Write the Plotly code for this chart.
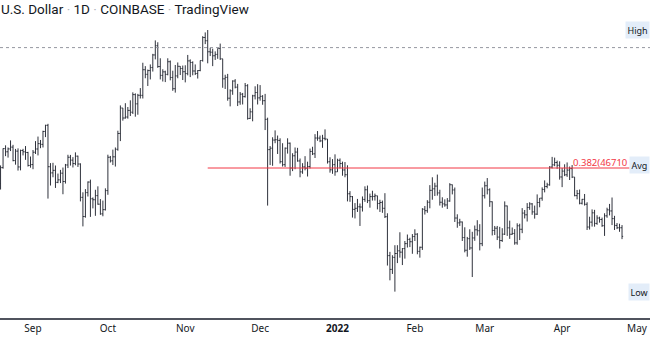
import numpy as np
import pandas as pd
import plotly.graph_objects as go

# Daily BTC/USD bars (Coinbase), 2021-08-19 .. 2022-04-25
dates = pd.date_range("2021-08-19", "2022-04-25", freq="D")

opens = [
    44700, 46760, 49340, 48900, 49300, 49550, 47700, 48990, 46850, 49080, 48900, 48800, 47050,
    47160, 48840, 49290, 50040, 49940, 51790, 52700, 46880, 46070, 46400, 44850, 45170, 46030, 44960,
    47110, 48150, 47760, 47300, 48300, 47240, 42990, 40720, 43570, 44890, 42820, 42700, 43200, 42170,
    41030, 41520,
    43820, 48150, 47660, 48210, 49250, 51500, 55340, 53800, 53950, 54970, 54690, 57480, 56000, 57370,
    57360, 61670, 60870, 61520, 62050, 64300, 66000, 62230, 60690, 61300, 60860, 63080, 60330, 58450,
    60600, 62270, 61880,
    61320, 61000, 63230, 62940, 61450, 61010, 61530, 63300, 67550, 66940, 64880, 64800, 64150, 64400,
    65500, 63600, 60100, 60350, 56900, 58100, 59730, 58700, 56300, 57550, 57150, 58950, 53740, 54750,
    57280, 57820,
    56950, 57200, 56500, 53600, 49200, 49400, 50550, 50600, 50500, 47550, 47150, 49400, 50100, 46700,
    48350, 48860, 47650, 46200, 46850, 46680, 46900, 48950, 48620, 50840, 50830, 50430, 50800, 50700,
    47540, 46470, 47150,
    46210, 47740, 47300, 46450, 45830, 43430, 43080, 41550, 41680, 41860, 41830, 42740, 43920, 42590,
    43080, 43100, 43180, 42250, 42370, 41680, 40700, 36460, 35070, 36280, 36680, 36960, 36820, 37190,
    37720, 38170, 37920,
    38480, 38740, 36900, 37330, 41570, 41400, 42400, 43850, 44040, 44380, 43530, 42400, 42200, 42080,
    42550, 44550, 43900, 40550, 40000, 40100, 38370, 37020, 38250, 37260, 38330, 39220, 39120, 37710,
    43190, 44420, 43920, 42460, 39150, 39400, 38420, 38050, 38740, 41960, 39440, 38730, 38820, 37800,
    39670, 39280, 41120, 40920, 41780, 42200, 41260, 41000, 42370, 42890, 43960, 44330, 44540, 46830,
    47130, 47440, 47070,
    45540, 46300, 45820, 46430, 46630, 45530, 43200, 43450, 42280, 42750, 42160, 39530, 40080, 41150,
    39940, 40550, 40380, 39680, 40800, 41500, 41370, 40480, 39710, 39450, 39450,
]
highs = [
    47050, 49380, 49800, 49500, 50500, 49870, 49300, 49380, 49200, 49310, 49700, 48900, 48250,
    49150, 50400, 51050, 50560, 51900, 52780, 52920, 47360, 47400, 47040, 45980, 46460, 46770, 47250,
    48490, 48470, 48170, 48820, 48370, 47330, 43610, 44000, 44970, 45200, 42980, 43920, 44350, 42780,
    42600, 44100,
    48500, 48330, 49200, 49500, 51900, 55750, 55340, 56100, 55500, 56560, 57850, 57680, 57600, 58550,
    62900, 62300, 61700, 62600, 64500, 67000, 66650, 63700, 61750, 61500, 63700, 63300, 61500, 62500,
    62950, 62300, 62400,
    62450, 64300, 63500, 63150, 62600, 61600, 63300, 67800, 68530, 69000, 65600, 65450, 64950, 65500,
    66400, 63600, 60800, 60950, 58350, 59850, 60050, 59250, 57900, 57750, 59400, 59200, 55300, 57450,
    58850, 59200,
    59050, 57400, 57600, 53850, 49700, 50950, 51950, 51200, 50800, 50100, 49500, 50800, 50200, 48700,
    49500, 49450, 47980, 47350, 48300, 47550, 49350, 49600, 51400, 51850, 51200, 51300, 52100, 50700,
    48150, 47900, 48550,
    47950, 47990, 47560, 47500, 47070, 43750, 43150, 42300, 42800, 42250, 43100, 44350, 44450, 43450,
    43800, 43450, 43190, 42700, 42600, 43500, 41100, 36850, 36500, 37550, 37550, 38950, 37250, 38000,
    38700, 38350, 38750,
    39280, 38850, 37400, 41700, 41950, 42650, 44500, 45500, 44800, 45850, 43920, 43000, 42750, 42900,
    44750, 44580, 44200, 40980, 40460, 40150, 39500, 38440, 39280, 39000, 39700, 40300, 39850, 44200,
    44950, 45400, 44100, 42500, 39650, 39650, 39550, 39400, 42500, 42000, 40250, 39480, 39300, 39950,
    39900, 41700, 41480, 42300, 42400, 42300, 42000, 43350, 42900, 44220, 45100, 44800, 46950, 48200,
    48100, 47700, 47600,
    46700, 47200, 47450, 46900, 47100, 45530, 43900, 43950, 42800, 43400, 42400, 40700, 41550, 41500,
    40870, 40700, 40600, 41100, 41750, 42200, 42970, 40800, 39980, 39900, 39750,
]
lows = [
    43950, 46620, 48300, 48100, 49000, 47600, 47150, 46370, 46400, 48400, 47800, 46900, 46750,
    46550, 48600, 48400, 49400, 49500, 50970, 42840, 44450, 45500, 44150, 44750, 44760, 43370, 44700,
    46700, 47030, 46780, 47070, 46850, 42500, 39600, 40590, 43090, 40680, 41670, 40800, 42100, 40920,
    40750, 41420,
    43300, 47440, 47100, 46900, 49050, 50400, 53400, 53700, 53700, 54100, 54420, 54000, 54300, 56850,
    56850, 60200, 58900, 60000, 61350, 63500, 62000, 60000, 59650, 59550, 60700, 59850, 58100, 57800,
    60200, 60750, 59900,
    59500, 60700, 60400, 60700, 60750, 60150, 61400, 63100, 66300, 62800, 64100, 62300, 63400, 63600,
    63400, 58600, 58400, 56500, 55600, 57450, 58500, 55650, 55850, 55900, 57000, 53550, 53650, 53300,
    56700, 55900,
    56500, 55850, 52000, 42000, 47100, 47000, 50100, 48600, 47300, 46900, 46850, 48650, 45700, 46300,
    46550, 47550, 45500, 45950, 46400, 45600, 46650, 48450, 48050, 50450, 50250, 49450, 50500, 47300,
    46100, 45950, 45700,
    46200, 46650, 45700, 45500, 42500, 42450, 40600, 40500, 41250, 39650, 41300, 42450, 42300, 41750,
    42600, 42600, 41550, 41250, 41150, 40550, 35450, 34000, 34620, 32930, 35700, 36250, 35500, 36150,
    37300, 37350, 36650,
    38000, 36600, 36250, 37050, 40950, 41150, 41680, 42700, 43150, 43200, 42000, 41750, 41870, 41600,
    42450, 43350, 40100, 39450, 39650, 38000, 36800, 36350, 37050, 34320, 38020, 38580, 37000, 37450,
    42850, 43350, 41850, 38600, 38650, 38100, 37200, 37900, 38650, 38550, 38230, 38670, 37600, 37600,
    38100, 38850, 40500, 40150, 41500, 40920, 40480, 40900, 41800, 42580, 43600, 44100, 44430, 46650,
    46950, 46600, 45200,
    44250, 45650, 45550, 45150, 45400, 43120, 42750, 42150, 42130, 42000, 39200, 39250, 39580, 39570,
    39780, 40020, 39550, 38550, 40580, 40850, 39750, 39200, 39300, 39000, 38200,
]
closes = [
    46760, 49340, 48900, 49300, 49550, 47700, 48990, 46850, 49080, 48900, 48800, 47050, 47160,
    48840, 49290, 50040, 49940, 51790, 52700, 46880, 46070, 46400, 44850, 45170, 46030, 44960, 47110,
    48150, 47760, 47300, 48300, 47240, 42990, 40720, 43570, 44890, 42820, 42700, 43200, 42170, 41030,
    41520, 43820,
    48150, 47660, 48210, 49250, 51500, 55340, 53800, 53950, 54970, 54690, 57480, 56000, 57370, 57360,
    61670, 60870, 61520, 62050, 64300, 66000, 62230, 60690, 61300, 60860, 63080, 60330, 58450, 60600,
    62270, 61880, 61320,
    61000, 63230, 62940, 61450, 61010, 61530, 63300, 67550, 66940, 64880, 64800, 64150, 64400, 65500,
    63600, 60100, 60350, 56900, 58100, 59730, 58700, 56300, 57550, 57150, 58950, 53740, 54750, 57280,
    57820, 56950,
    57200, 56500, 53600, 49200, 49400, 50550, 50600, 50500, 47550, 47150, 49400, 50100, 46700, 48350,
    48860, 47650, 46200, 46850, 46680, 46900, 48950, 48620, 50840, 50830, 50430, 50800, 50700, 47540,
    46470, 47150, 46210,
    47740, 47300, 46450, 45830, 43430, 43080, 41550, 41680, 41860, 41830, 42740, 43920, 42590, 43080,
    43100, 43180, 42250, 42370, 41680, 40700, 36460, 35070, 36280, 36680, 36960, 36820, 37190, 37720,
    38170, 37920, 38480,
    38740, 36900, 37330, 41570, 41400, 42400, 43850, 44040, 44380, 43530, 42400, 42200, 42080, 42550,
    44550, 43900, 40550, 40000, 40100, 38370, 37020, 38250, 37260, 38330, 39220, 39120, 37710, 43190,
    44420, 43920, 42460, 39150, 39400, 38420, 38050, 38740, 41960, 39440, 38730, 38820, 37800, 39670,
    39280, 41120, 40920, 41780, 42200, 41260, 41000, 42370, 42890, 43960, 44330, 44540, 46830, 47130,
    47440, 47070, 45540,
    46300, 45820, 46430, 46630, 45530, 43200, 43450, 42280, 42750, 42160, 39530, 40080, 41150, 39940,
    40550, 40380, 39680, 40800, 41500, 41370, 40480, 39710, 39450, 39450, 38500,
]

# Month ticks along the time axis
tick_dates = ["2021-09-01", "2021-10-01", "2021-11-01", "2021-12-01", "2022-01-01",
              "2022-02-01", "2022-03-01", "2022-04-01", "2022-05-01"]
tick_labels = ["Sep", "Oct", "Nov", "Dec", "<b>2022</b>", "Feb", "Mar", "Apr", "May"]

# Horizontal levels
fib_level = 46710
fib_text = "0.382(46710"
fib_start, fib_end = "2021-11-10", "2022-04-28"
dotted_level = 65650
range_high, range_low = 69000, 32930
avg_label_price = 47100

BAR = "#2f323c"
RED = "#f23645"
SEP = "<span style='color:#b2b5be'>·</span>"

fig = go.Figure()
fig.add_trace(go.Ohlc(
    x=dates, open=opens, high=highs, low=lows, close=closes,
    increasing=dict(line=dict(color=BAR, width=1)),
    decreasing=dict(line=dict(color=BAR, width=1)),
    tickwidth=0.45, hoverinfo="skip", showlegend=False,
))

x_lo, x_hi = "2021-08-18 18:40", "2022-05-06 05:00"

fig.add_trace(go.Scatter(
    x=[x_lo, x_hi], y=[dotted_level, dotted_level], mode="lines",
    line=dict(color="#9598a1", width=1, dash="dot"), hoverinfo="skip", showlegend=False,
))
fig.add_trace(go.Scatter(
    x=[fib_start, fib_end], y=[fib_level, fib_level], mode="lines",
    line=dict(color=RED, width=1), hoverinfo="skip", showlegend=False,
))

annotations = [
    dict(x=0, y=1, xref="paper", yref="paper", xanchor="left", yanchor="top",
         xshift=-1, yshift=1, showarrow=False,
         text=f"U.S. Dollar {SEP} 1D {SEP} COINBASE {SEP} TradingView",
         font=dict(family="Roboto, Arial, sans-serif", size=13.5, color="#131722")),
    dict(x=fib_end, y=np.log10(fib_level), xref="x", yref="y", xanchor="right", yanchor="bottom",
         xshift=-1, yshift=-3, showarrow=False, text=fib_text,
         font=dict(family="Noto Sans, sans-serif", size=9.5, color=RED)),
]
for label, price in [("High", range_high), ("Avg", avg_label_price), ("Low", range_low)]:
    annotations.append(dict(
        x=1, y=np.log10(price), xref="paper", yref="y", xanchor="right", yanchor="middle",
        showarrow=False, text=label, bgcolor="#e3edf9", borderpad=1.5,
        font=dict(family="Noto Sans, sans-serif", size=9, color="#131722"),
    ))

fig.update_layout(
    width=650, height=340,
    margin=dict(l=0, r=0, t=0, b=22),
    paper_bgcolor="white", plot_bgcolor="white",
    annotations=annotations,
    xaxis=dict(
        type="date", range=[x_lo, x_hi], rangeslider=dict(visible=False),
        tickvals=tick_dates, ticktext=tick_labels, ticks="",
        showgrid=False, zeroline=False,
        showline=True, linecolor="#50535e", linewidth=1.5,
        tickfont=dict(family="Noto Sans, sans-serif", size=10, color="#131722"),
    ),
    yaxis=dict(
        type="log", range=[4.48523, 4.87568],
        showgrid=False, zeroline=False, showticklabels=False, showline=False,
    ),
)

fig.write_html("out.html")
